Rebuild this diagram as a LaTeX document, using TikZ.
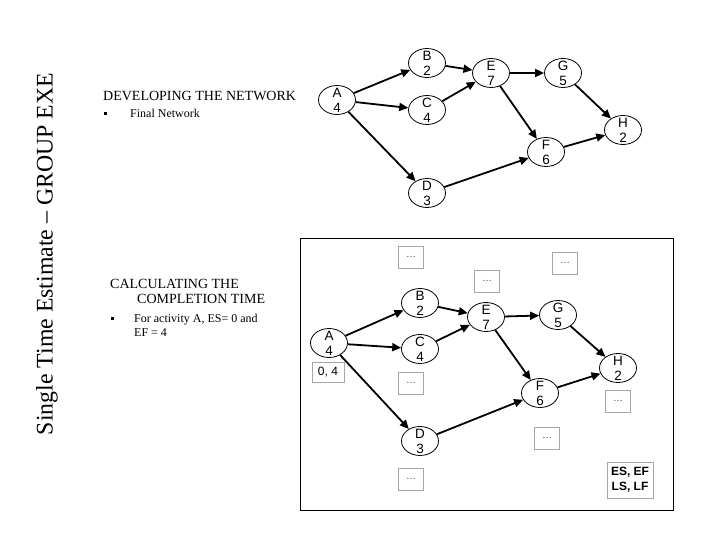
\documentclass[tikz,border=0pt]{standalone}
\usepackage{fontspec}
\setmainfont{Liberation Serif}
\setsansfont{Liberation Sans}
\usetikzlibrary{shapes.geometric,arrows.meta}
\newcommand{\actlbl}[2]{\smash{\raisebox{-5.5pt}{\begin{tabular}[c]{@{}c@{}}#1\\[-1pt]#2\end{tabular}}}}
\tikzset{
  act/.style={draw=black, line width=0.8pt, ellipse, minimum width=37pt, minimum height=29pt, inner sep=0pt,
    font=\sffamily\fontsize{13.5}{16}\selectfont},
  link/.style={line width=1.8pt, -{Triangle[length=9pt,width=8pt]}},
  dots/.style={draw=gray!70, line width=0.8pt, minimum width=25pt, minimum height=22pt, inner sep=0pt,
    font=\sffamily\fontsize{10}{12}\selectfont, text=black!75},
  lbl/.style={anchor=base west, inner sep=0pt, font=\fontsize{12}{14}\selectfont},
  bul/.style={fill=black, inner sep=0pt, minimum size=3pt},
}
\begin{document}
\begin{tikzpicture}[x=1pt,y=-1pt]
\useasboundingbox (0,0) rectangle (720,540);
% vertical title
\node[rotate=90, anchor=center, inner sep=0pt, font=\fontsize{23.8}{26}\selectfont] (title) at (47,254) {Single Time Estimate -- GROUP EXE};
% left texts
\node[anchor=base west, inner sep=0pt, font=\fontsize{14}{16}\selectfont] (dev) at (103,101) {DEVELOPING THE NETWORK};
\node[bul] (b1) at (105,114) {};
\node[lbl] (fn) at (130,118) {Final Network};
\node[anchor=base west, inner sep=0pt, font=\fontsize{14}{16}\selectfont] (calc1) at (110,288) {CALCULATING THE};
\node[anchor=base west, inner sep=0pt, font=\fontsize{14}{16}\selectfont] (calc2) at (137,303) {COMPLETION TIME};
\node[bul] (b2) at (112,318) {};
\node[lbl] (fa1) at (134,322) {For activity A, ES= 0 and};
\node[lbl] (fa2) at (134,336) {EF = 4};

% top network
\node[act] (A) at (337,100) {\actlbl{A}{4}};
\node[act] (B) at (427,63) {\actlbl{B}{2}};
\node[act] (C) at (427,110) {\actlbl{C}{4}};
\node[act] (D) at (427,193) {\actlbl{D}{3}};
\node[act] (E) at (491,73) {\actlbl{E}{7}};
\node[act] (G) at (563,73) {\actlbl{G}{5}};
\node[act] (F) at (546,152) {\actlbl{F}{6}};
\node[act] (H) at (623,130) {\actlbl{H}{2}};
\draw[link] (A) -- (B);
\draw[link] (A) -- (C);
\draw[link] (A) -- (D);
\draw[link] (B) -- (E);
\draw[link] (C) -- (E);
\draw[link] (E) -- (G);
\draw[link] (E) -- (F);
\draw[link] (D) -- (F);
\draw[link] (G) -- (H);
\draw[link] (F) -- (H);

% bottom frame
\draw[line width=0.9pt] (300,238) rectangle (673,510);
\node[act] (A2) at (329,343) {\actlbl{A}{4}};
\node[act] (B2) at (420,303) {\actlbl{B}{2}};
\node[act] (C2) at (420,349) {\actlbl{C}{4}};
\node[act] (D2) at (420,441) {\actlbl{D}{3}};
\node[act] (E2) at (486,317) {\actlbl{E}{7}};
\node[act] (G2) at (558,315) {\actlbl{G}{5}};
\node[act] (F2) at (540,393) {\actlbl{F}{6}};
\node[act] (H2) at (618,368) {\actlbl{H}{2}};
\draw[link] (A2) -- (B2);
\draw[link] (A2) -- (C2);
\draw[link] (A2) -- (D2);
\draw[link] (B2) -- (E2);
\draw[link] (C2) -- (E2);
\draw[link] (E2) -- (G2);
\draw[link] (E2) -- (F2);
\draw[link] (D2) -- (F2);
\draw[link] (G2) -- (H2);
\draw[link] (F2) -- (H2);

\node[dots] (dB) at (411,257) {\ldots};
\node[dots] (dE) at (487,281) {\ldots};
\node[dots] (dG) at (565,263) {\ldots};
\node[dots, minimum width=32pt, minimum height=20pt, text=black, font=\sffamily\fontsize{12}{14}\selectfont] (dA) at (328,372) {0, 4};
\node[dots] (dC) at (411,383) {\ldots};
\node[dots] (dH) at (618,401) {\ldots};
\node[dots] (dF) at (547,438) {\ldots};
\node[dots] (dD) at (411,479) {\ldots};
\node[dots, minimum width=46pt, minimum height=36pt, text=black, align=center, font=\sffamily\bfseries\fontsize{12}{15}\selectfont] (key) at (630,480) {ES, EF\\LS, LF};
\end{tikzpicture}
\end{document}
